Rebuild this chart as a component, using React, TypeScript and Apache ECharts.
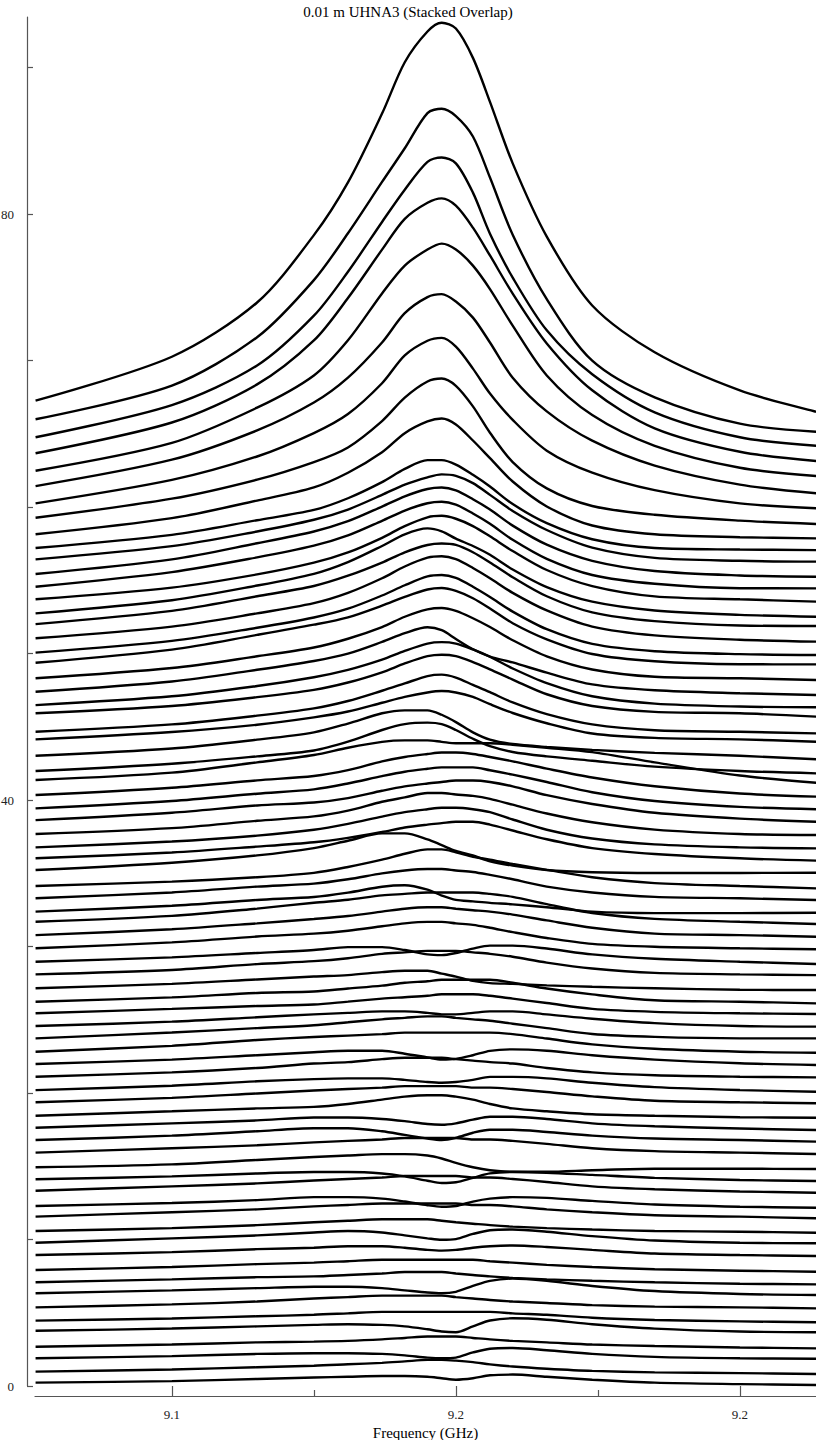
import React, { useEffect, useRef } from "react";
import * as echarts from "echarts";

const TITLE = "0.01 m UHNA3 (Stacked Overlap)";
const X_NAME = "Frequency (GHz)";
const X_MIN = 9.1259;
const X_MAX = 9.2634;
const Y_MIN = 0;
const Y_MAX = 93.45;
const X_TICKS_MAJOR = [9.15, 9.2, 9.25];
const X_TICK_LABELS = ["9.1", "9.2", "9.2"];
const X_TICKS_MINOR = [9.175, 9.225];
const Y_TICKS = [0, 10, 20, 30, 40, 50, 60, 70, 80, 90];
const Y_TICK_LABELS = [0, 40, 80];

// sample frequencies (GHz) at which every trace was read
const FREQ = [9.126, 9.15, 9.165, 9.175, 9.181, 9.187, 9.191, 9.195, 9.1975, 9.2, 9.203, 9.206, 9.21, 9.216, 9.224, 9.235, 9.25, 9.2635];

// level of each trace at the left edge (stack offset)
const BASE = [67.26, 65.99, 64.76, 63.67, 62.48, 61.43, 60.25, 59.27, 58.14, 57.2, 56.43, 55.43, 54.56, 53.7, 52.74, 52.01, 51.04, 50.06, 49.37, 48.31, 47.39, 46.48, 45.92, 44.66, 44.14, 43.02, 41.98, 41.37, 40.34, 39.43, 38.63, 37.68, 36.77, 36.02, 35.22, 34.13, 33.29, 32.38, 31.69, 30.78, 29.88, 28.96, 28.1, 27.15, 26.23, 25.44, 24.57, 23.73, 22.82, 21.98, 21.11, 20.2, 19.37, 18.45, 17.63, 16.79, 15.93, 14.93, 14.11, 13.33, 12.29, 11.56, 10.58, 9.78, 8.94, 7.92, 7.08, 6.33, 5.37, 4.46, 3.77, 2.68, 1.89, 0.98, 0.23];

// trace values above the left-edge level, per sample frequency
const TRACES_TOP = [
  [0, 3.0, 6.7, 11.3, 14.9, 19.6, 23.1, 25.2, 25.8, 25.4, 23.4, 20.4, 16.2, 11.2, 6.5, 3.3, 0.7, -0.76],
  [0, 2.3, 5.6, 9.5, 12.7, 16.2, 18.5, 20.9, 21.2, 20.7, 19.3, 16.5, 12.6, 8.2, 4.0, 1.5, -0.3, -0.85],
  [0, 2.2, 4.9, 8.3, 11.3, 14.7, 16.9, 18.8, 19.1, 18.7, 16.7, 13.9, 10.9, 7.3, 4.3, 1.7, 0, -0.58],
  [0, 2.1, 4.7, 7.7, 10.6, 13.9, 16.0, 17.1, 17.4, 16.9, 15.4, 13.5, 10.9, 7.5, 4.3, 1.7, 0.1, -0.53],
  [0, 1.9, 4.3, 6.5, 8.9, 12.1, 14.0, 15.1, 15.5, 15.1, 14.0, 12.4, 9.9, 6.5, 3.8, 1.7, 0.2, -0.36],
  [0, 1.8, 3.8, 5.7, 7.4, 9.8, 11.8, 12.9, 13.1, 12.6, 11.5, 9.8, 7.4, 5.1, 3.1, 1.4, 0.1, -0.49],
  [0, 1.6, 3.2, 4.8, 6.1, 8.2, 10.1, 11.1, 11.3, 10.7, 9.2, 7.5, 5.7, 3.6, 2.1, 0.9, 0, -0.34],
  [0, 1.3, 2.6, 3.8, 4.8, 6.6, 8.2, 9.3, 9.5, 9.0, 7.6, 5.8, 3.8, 2.0, 0.8, 0.2, -0.2, -0.43],
  [0, 1.1, 2.3, 3.2, 4.2, 5.6, 6.9, 7.7, 7.9, 7.5, 6.4, 5.2, 3.6, 1.9, 0.6, 0.0, -0.2, -0.28],
];

const TRACES_MID = [
  [0, 0.9, 1.9, 2.6, 3.4, 4.5, 5.4, 6.0, 6.0, 5.7, 5.0, 4.2, 3.0, 1.7, 0.6, 0.0, -0.1, -0.14],
  [0, 0.9, 1.9, 2.7, 3.4, 4.4, 5.1, 5.6, 5.8, 5.7, 5.2, 4.4, 3.3, 2.0, 0.8, 0.1, -0.1, -0.16],
  [0, 1.0, 2.1, 2.9, 3.6, 4.6, 5.3, 5.8, 5.9, 5.7, 5.1, 4.4, 3.3, 2.0, 0.9, 0.2, -0.1, -0.19],
  [0, 1.0, 2.0, 2.8, 3.5, 4.5, 5.2, 5.7, 5.8, 5.6, 5.0, 4.3, 3.2, 1.9, 0.8, 0.2, -0.1, -0.11],
  [0, 0.8, 1.7, 2.5, 3.2, 4.2, 5.0, 5.6, 5.7, 5.5, 5.0, 4.3, 3.3, 2.0, 0.9, 0.2, 0.0, -0.16],
  [0, 0.9, 1.9, 2.7, 3.5, 4.6, 5.4, 5.8, 5.6, 5.1, 4.6, 4.0, 3.0, 1.8, 0.8, 0.2, -0.1, -0.23],
  [0, 0.9, 1.9, 2.6, 3.3, 4.2, 4.9, 5.4, 5.5, 5.4, 4.9, 4.2, 3.2, 1.9, 0.8, 0.2, -0.1, -0.13],
  [0, 0.8, 1.7, 2.4, 3.1, 4.1, 4.9, 5.5, 5.6, 5.4, 4.8, 4.1, 3.1, 1.9, 0.8, 0.2, -0.1, -0.23],
  [0, 0.8, 1.7, 2.4, 3.0, 3.9, 4.6, 5.2, 5.3, 5.1, 4.5, 3.8, 2.8, 1.6, 0.6, 0.1, -0.1, -0.16],
  [0, 0.9, 1.9, 2.6, 3.1, 3.9, 4.5, 5.0, 5.1, 4.9, 4.4, 3.7, 2.7, 1.6, 0.6, 0.1, -0.1, -0.11],
  [0, 0.7, 1.5, 2.1, 2.7, 3.5, 4.2, 4.7, 4.8, 4.6, 4.1, 3.5, 2.6, 1.5, 0.6, 0.1, 0.0, -0.12],
  [0, 0.7, 1.5, 2.1, 2.6, 3.4, 4.0, 4.4, 4.2, 3.6, 2.9, 2.4, 2.0, 1.3, 0.5, 0.1, -0.1, -0.22],
  [0, 0.6, 1.3, 1.9, 2.4, 3.1, 3.7, 4.2, 4.3, 4.2, 3.8, 3.3, 2.5, 1.5, 0.6, 0.1, -0.1, -0.15],
  [0, 0.5, 1.1, 1.6, 2.1, 2.8, 3.4, 3.9, 4.0, 3.9, 3.5, 3.0, 2.3, 1.3, 0.5, 0.1, 0.0, -0.23],
  [0, 0.5, 1.1, 1.6, 2.1, 2.8, 3.3, 3.8, 3.9, 3.7, 3.2, 2.7, 2.0, 1.2, 0.5, 0.1, 0.0, -0.11],
  [0, 0.5, 1.0, 1.5, 1.9, 2.5, 2.9, 3.2, 3.3, 3.2, 2.9, 2.4, 1.8, 1.1, 0.4, 0.1, 0.0, -0.16],
];

const TRACES_UPPER = [
  [0, 0.5, 1.1, 1.6, 2.2, 2.9, 3.1, 3.1, 2.8, 2.3, 1.6, 1.1, 0.8, 0.6, 0.4, 0.2, 0.0, -0.24],
  [0, 0.5, 1.0, 1.4, 2.0, 2.8, 3.2, 3.3, 3.2, 2.8, 2.2, 1.7, 1.3, 1.0, 0.7, 0.3, 0.0, -0.16],
  [0, 0.5, 1.2, 1.7, 2.2, 2.6, 2.7, 2.7, 2.6, 2.5, 2.5, 2.5, 2.4, 2.2, 1.9, 1.2, 0.3, -0.19],
  [0, 0.5, 1.0, 1.3, 1.7, 2.3, 2.6, 2.8, 2.9, 2.9, 2.8, 2.6, 2.3, 1.8, 1.2, 0.6, 0.1, -0.11],
  [0, 0.5, 1.0, 1.3, 1.7, 2.2, 2.5, 2.7, 2.8, 2.8, 2.8, 2.6, 2.3, 1.8, 1.1, 0.5, 0.1, -0.06],
  [0, 0.5, 1.0, 1.2, 1.5, 2.0, 2.3, 2.5, 2.6, 2.7, 2.7, 2.6, 2.3, 1.7, 1.1, 0.5, 0.1, -0.11],
  [0, 0.4, 0.9, 1.2, 1.6, 2.2, 2.5, 2.8, 2.8, 2.7, 2.6, 2.4, 2.0, 1.4, 0.8, 0.3, 0.0, -0.07],
  [0, 0.4, 0.8, 1.2, 1.6, 2.1, 2.4, 2.6, 2.7, 2.7, 2.6, 2.4, 1.9, 1.2, 0.6, 0.2, 0.0, -0.07],
  [0, 0.4, 0.8, 1.1, 1.4, 1.8, 2.1, 2.3, 2.4, 2.5, 2.5, 2.3, 1.9, 1.3, 0.7, 0.3, 0.0, -0.16],
  [0, 0.5, 1.0, 1.5, 2.0, 2.5, 2.5, 2.1, 1.7, 1.3, 1.0, 0.6, 0.3, 0.0, -0.15, -0.2, -0.2, -0.18],
  [0, 0.3, 0.6, 0.9, 1.3, 1.8, 2.2, 2.5, 2.5, 2.3, 2.0, 1.8, 1.5, 1.1, 0.6, 0.2, 0.0, -0.16],
  [0, 0.4, 0.8, 1.0, 1.3, 1.7, 1.9, 2.0, 2.0, 1.9, 1.8, 1.6, 1.3, 0.8, 0.4, 0.1, 0.0, -0.12],
  [0, 0.4, 0.8, 1.0, 1.3, 1.7, 1.8, 1.5, 1.1, 0.8, 0.7, 0.6, 0.5, 0.3, 0.0, -0.1, -0.1, -0.07],
  [0, 0.4, 0.9, 1.3, 1.5, 1.8, 1.9, 2.0, 2.0, 2.0, 2.0, 1.9, 1.7, 1.2, 0.6, 0.2, 0.0, -0.15],
  [0, 0.4, 0.8, 1.1, 1.3, 1.6, 1.8, 1.9, 1.9, 1.8, 1.7, 1.6, 1.4, 1.0, 0.5, 0.1, 0.0, -0.11],
  [0, 0.4, 0.8, 1.0, 1.2, 1.5, 1.7, 1.8, 1.8, 1.7, 1.6, 1.4, 1.1, 0.7, 0.3, 0.1, 0.0, -0.07],
  [0, 0.3, 0.6, 0.8, 1.0, 1.0, 0.8, 0.5, 0.45, 0.6, 0.9, 1.1, 1.1, 0.9, 0.5, 0.2, 0.0, -0.15],
  [0, 0.3, 0.7, 0.9, 1.1, 1.4, 1.5, 1.6, 1.6, 1.6, 1.5, 1.4, 1.2, 0.8, 0.4, 0.1, 0.0, -0.05],
  [0, 0.3, 0.6, 0.8, 0.9, 1.1, 1.2, 1.2, 1.0, 0.8, 0.5, 0.35, 0.3, 0.2, 0.1, 0.0, -0.1, -0.12],
  [0, 0.3, 0.6, 0.7, 0.9, 1.1, 1.3, 1.4, 1.5, 1.5, 1.5, 1.5, 1.3, 0.9, 0.5, 0.1, 0.0, -0.11],
  [0, 0.3, 0.5, 0.6, 0.8, 1.0, 1.1, 1.2, 1.3, 1.3, 1.3, 1.2, 1.0, 0.7, 0.3, 0.1, 0.0, -0.05],
  [0, 0.3, 0.6, 0.8, 0.9, 1.0, 1.0, 0.9, 0.8, 0.8, 0.9, 1.0, 1.0, 0.8, 0.5, 0.2, 0.0, -0.04],
  [0, 0.4, 0.7, 0.9, 1.1, 1.3, 1.4, 1.5, 1.5, 1.4, 1.3, 1.2, 1.0, 0.7, 0.3, 0.1, 0.0, 0.0],
  [0, 0.4, 0.8, 1.0, 1.1, 1.2, 1.3, 1.3, 1.3, 1.3, 1.3, 1.3, 1.2, 0.9, 0.5, 0.2, 0.0, -0.07],
];

const TRACES_LOWER = [
  [0, 0.3, 0.6, 0.8, 0.9, 0.9, 0.7, 0.45, 0.3, 0.35, 0.6, 0.9, 1.0, 0.9, 0.6, 0.3, 0.05, -0.07],
  [0, 0.3, 0.6, 0.9, 1.0, 1.2, 1.3, 1.3, 1.3, 1.2, 1.1, 1.0, 0.9, 0.6, 0.3, 0.1, 0.0, -0.04],
  [0, 0.3, 0.6, 0.75, 0.8, 0.8, 0.7, 0.55, 0.5, 0.55, 0.7, 0.9, 0.9, 0.8, 0.5, 0.2, 0.0, -0.11],
  [0, 0.3, 0.6, 0.8, 0.9, 1.0, 1.1, 1.1, 1.1, 1.1, 1.0, 1.0, 0.9, 0.7, 0.4, 0.1, 0.0, -0.07],
  [0, 0.3, 0.5, 0.6, 0.8, 1.1, 1.3, 1.4, 1.4, 1.3, 1.1, 0.8, 0.5, 0.3, 0.1, 0.0, -0.1, -0.14],
  [0, 0.3, 0.5, 0.7, 0.7, 0.6, 0.45, 0.25, 0.2, 0.3, 0.55, 0.75, 0.75, 0.6, 0.3, 0.1, -0.05, -0.16],
  [0, 0.3, 0.6, 0.8, 0.8, 0.6, 0.35, 0.1, 0.0, 0.15, 0.5, 0.7, 0.7, 0.55, 0.3, 0.1, 0.0, -0.11],
  [0, 0.3, 0.5, 0.7, 0.8, 0.9, 1.0, 1.0, 1.0, 1.0, 0.9, 0.9, 0.8, 0.6, 0.3, 0.1, 0.0, -0.09],
  [0, 0.2, 0.5, 0.7, 0.8, 0.9, 0.9, 0.8, 0.6, 0.3, 0.0, -0.2, -0.3, -0.3, -0.2, -0.1, -0.1, -0.12],
  [0, 0.2, 0.4, 0.5, 0.5, 0.4, 0.2, -0.1, -0.25, -0.2, 0.1, 0.4, 0.5, 0.45, 0.3, 0.1, -0.05, -0.12],
  [0, 0.3, 0.5, 0.7, 0.8, 0.9, 1.0, 1.0, 1.0, 1.0, 0.9, 0.9, 0.8, 0.6, 0.3, 0.1, -0.05, -0.14],
  [0, 0.2, 0.4, 0.6, 0.6, 0.5, 0.3, 0.05, -0.05, 0.0, 0.3, 0.5, 0.6, 0.55, 0.35, 0.1, -0.05, -0.12],
  [0, 0.3, 0.5, 0.7, 0.8, 0.9, 0.9, 0.9, 0.9, 0.9, 0.8, 0.8, 0.7, 0.5, 0.3, 0.1, 0.0, -0.11],
  [0, 0.2, 0.4, 0.6, 0.7, 0.8, 0.8, 0.8, 0.7, 0.6, 0.5, 0.4, 0.3, 0.2, 0.1, 0.0, -0.05, -0.12],
  [0, 0.3, 0.5, 0.7, 0.8, 0.7, 0.5, 0.3, 0.2, 0.25, 0.6, 0.85, 0.9, 0.75, 0.45, 0.15, 0.0, -0.04],
  [0, 0.2, 0.4, 0.5, 0.6, 0.6, 0.5, 0.35, 0.3, 0.35, 0.5, 0.6, 0.65, 0.55, 0.35, 0.1, 0.0, -0.07],
  [0, 0.2, 0.4, 0.5, 0.6, 0.7, 0.7, 0.7, 0.7, 0.7, 0.7, 0.6, 0.5, 0.35, 0.2, 0.05, -0.05, -0.12],
  [0, 0.2, 0.35, 0.4, 0.5, 0.6, 0.7, 0.7, 0.7, 0.6, 0.5, 0.4, 0.3, 0.2, 0.1, 0.0, -0.1, -0.14],
  [0, 0.2, 0.35, 0.45, 0.45, 0.35, 0.2, 0.05, 0.0, 0.1, 0.5, 0.85, 1.0, 0.85, 0.5, 0.15, -0.05, -0.12],
  [0, 0.2, 0.4, 0.6, 0.7, 0.8, 0.8, 0.8, 0.8, 0.7, 0.6, 0.5, 0.4, 0.3, 0.15, 0.05, 0.0, -0.07],
  [0, 0.15, 0.3, 0.4, 0.5, 0.6, 0.6, 0.6, 0.6, 0.6, 0.6, 0.6, 0.5, 0.4, 0.2, 0.05, -0.05, -0.11],
  [0, 0.15, 0.3, 0.4, 0.45, 0.4, 0.3, 0.1, -0.05, -0.1, 0.3, 0.7, 0.85, 0.75, 0.45, 0.15, -0.05, -0.1],
  [0, 0.15, 0.3, 0.35, 0.4, 0.5, 0.6, 0.7, 0.7, 0.7, 0.6, 0.5, 0.4, 0.3, 0.15, 0.05, -0.05, -0.11],
  [0, 0.15, 0.3, 0.35, 0.35, 0.3, 0.2, 0.05, 0.0, 0.05, 0.4, 0.65, 0.7, 0.55, 0.3, 0.1, 0.0, -0.03],
  [0, 0.15, 0.3, 0.4, 0.5, 0.6, 0.7, 0.8, 0.8, 0.75, 0.65, 0.5, 0.35, 0.2, 0.05, -0.05, -0.1, -0.16],
  [0, 0.1, 0.25, 0.35, 0.4, 0.45, 0.45, 0.4, 0.3, 0.2, 0.3, 0.5, 0.55, 0.4, 0.2, 0.0, -0.1, -0.16],
];

const TRACES = [...TRACES_TOP, ...TRACES_MID, ...TRACES_UPPER, ...TRACES_LOWER];

const FONT = "Liberation Serif";
const AXIS_COLOR = "#555";

export default function App() {
  const ref = useRef<HTMLDivElement>(null);

  useEffect(() => {
    document.body.style.margin = "0";
    const chart = echarts.init(ref.current!, null, { renderer: "svg" });

    const series = TRACES.map((rise, i) => ({
      type: "line",
      name: `trace ${i + 1}`,
      showSymbol: false,
      symbol: "none",
      smooth: 0.3,
      silent: true,
      lineStyle: { color: "#000", width: 2.4 },
      data: FREQ.map((f, j) => [f, +(BASE[i] + rise[j]).toFixed(3)]),
    }));

    chart.setOption({
      animation: false,
      backgroundColor: "#fff",
      textStyle: { fontFamily: FONT },
      title: {
        text: TITLE,
        left: "center",
        top: -1,
        textStyle: { fontFamily: FONT, fontSize: 15, fontWeight: "normal", color: "#000" },
      },
      grid: { left: 35, right: 0, top: 17, bottom: 54, containLabel: false, outerBoundsMode: "none" },
      xAxis: [
        {
          type: "value",
          min: X_MIN,
          max: X_MAX,
          offset: 10,
          position: "bottom",
          name: X_NAME,
          nameLocation: "middle",
          nameGap: 25,
          nameTextStyle: { fontFamily: FONT, fontSize: 15, color: "#000" },
          axisLine: { show: true, onZero: false, lineStyle: { color: AXIS_COLOR, width: 1.2 } },
          axisTick: {
            show: true,
            inside: true,
            length: 10,
            customValues: X_TICKS_MAJOR,
            lineStyle: { color: AXIS_COLOR, width: 1.2 },
          },
          axisLabel: {
            show: true,
            customValues: X_TICKS_MAJOR,
            margin: 12,
            fontFamily: FONT,
            fontSize: 13,
            color: "#222",
            formatter: (v: number) => {
              let best = 0;
              X_TICKS_MAJOR.forEach((t, k) => {
                if (Math.abs(t - v) < Math.abs(X_TICKS_MAJOR[best] - v)) best = k;
              });
              return X_TICK_LABELS[best];
            },
          },
          splitLine: { show: false },
        },
        {
          type: "value",
          min: X_MIN,
          max: X_MAX,
          offset: 10,
          position: "bottom",
          axisLine: { show: false, onZero: false },
          axisTick: {
            show: true,
            inside: true,
            length: 6,
            customValues: X_TICKS_MINOR,
            lineStyle: { color: AXIS_COLOR, width: 1.2 },
          },
          axisLabel: { show: false },
          splitLine: { show: false },
        },
      ],
      yAxis: {
        type: "value",
        min: Y_MIN,
        max: Y_MAX,
        offset: 8,
        position: "left",
        axisLine: { show: true, onZero: false, lineStyle: { color: AXIS_COLOR, width: 1.2 } },
        axisTick: {
          show: true,
          inside: true,
          length: 6,
          customValues: Y_TICKS,
          lineStyle: { color: AXIS_COLOR, width: 1.2 },
        },
        axisLabel: {
          show: true,
          customValues: Y_TICK_LABELS,
          margin: 13,
          fontFamily: FONT,
          fontSize: 13,
          color: "#222",
        },
        splitLine: { show: false },
      },
      series,
    });

    return () => chart.dispose();
  }, []);

  return (
    <div
      ref={ref}
      style={{ position: "absolute", left: 0, top: 0, width: 816, height: 1440, background: "#fff" }}
    />
  );
}
